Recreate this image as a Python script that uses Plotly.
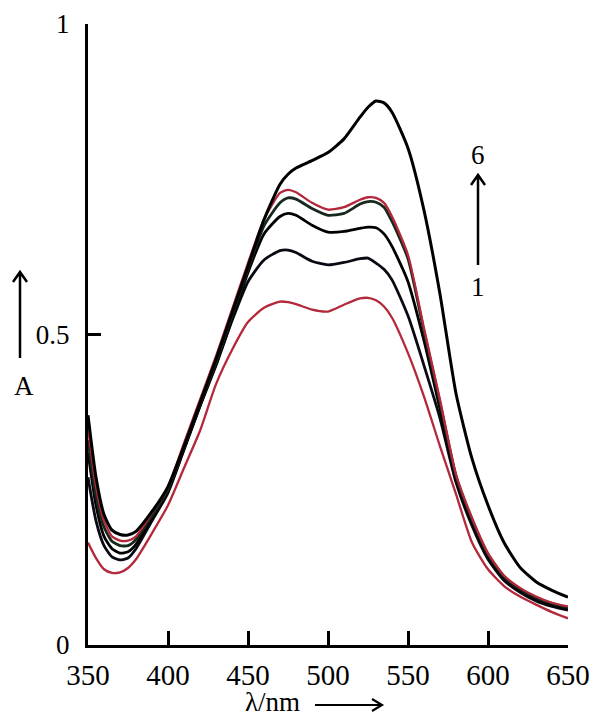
import plotly.graph_objects as go

wavelength = [350, 355, 360, 365, 370, 375, 380, 390, 400, 410, 420, 430, 440, 450, 460, 470, 475, 480,
              490, 500, 510, 520, 525, 530, 535, 540, 550, 560, 570, 580, 590, 600, 610, 620, 630, 640, 650]

curve1 = [0.165, 0.14, 0.122, 0.116, 0.117, 0.124, 0.138, 0.18, 0.225, 0.285, 0.345, 0.42, 0.475, 0.52, 0.543,
          0.553, 0.552, 0.549, 0.54, 0.537, 0.548, 0.558, 0.559, 0.555, 0.545, 0.527, 0.47, 0.40, 0.32, 0.243,
          0.165, 0.122, 0.095, 0.078, 0.065, 0.053, 0.043]
curve2 = [0.27, 0.2, 0.16, 0.142, 0.137, 0.14, 0.155, 0.2, 0.245, 0.315, 0.385, 0.45, 0.522, 0.585, 0.62,
          0.635, 0.636, 0.632, 0.618, 0.612, 0.616, 0.622, 0.623, 0.615, 0.605, 0.588, 0.53, 0.45, 0.365, 0.262,
          0.192, 0.138, 0.104, 0.085, 0.071, 0.062, 0.056]
curve3 = [0.31, 0.225, 0.175, 0.155, 0.148, 0.15, 0.162, 0.205, 0.248, 0.315, 0.385, 0.452, 0.525, 0.6, 0.662,
          0.69, 0.695, 0.692, 0.676, 0.665, 0.666, 0.671, 0.673, 0.672, 0.662, 0.642, 0.585, 0.49, 0.38, 0.268,
          0.198, 0.143, 0.108, 0.088, 0.074, 0.065, 0.058]
curve4 = [0.33, 0.24, 0.19, 0.167, 0.16, 0.16, 0.17, 0.208, 0.25, 0.318, 0.388, 0.455, 0.53, 0.605, 0.675,
          0.712, 0.72, 0.718, 0.703, 0.692, 0.695, 0.71, 0.714, 0.713, 0.705, 0.682, 0.622, 0.505, 0.39, 0.272,
          0.202, 0.146, 0.11, 0.09, 0.076, 0.067, 0.06]
curve5 = [0.35, 0.255, 0.2, 0.175, 0.168, 0.168, 0.175, 0.213, 0.255, 0.325, 0.395, 0.465, 0.54, 0.615, 0.685,
          0.728, 0.733, 0.729, 0.712, 0.701, 0.705, 0.717, 0.721, 0.72, 0.712, 0.69, 0.628, 0.51, 0.395, 0.275,
          0.205, 0.148, 0.112, 0.092, 0.078, 0.068, 0.062]
curve6 = [0.37, 0.27, 0.21, 0.185, 0.178, 0.177, 0.183, 0.215, 0.255, 0.32, 0.39, 0.46, 0.535, 0.61, 0.685,
          0.742, 0.758, 0.768, 0.78, 0.793, 0.815, 0.85, 0.866, 0.876, 0.873, 0.858, 0.8, 0.7, 0.565, 0.405,
          0.3, 0.225, 0.165, 0.125, 0.102, 0.088, 0.077]

series = [("1", curve1, "#b3283a", 2.3), ("2", curve2, "#0a0a14", 2.8), ("3", curve3, "#000000", 2.8),
          ("4", curve4, "#17281c", 2.8), ("5", curve5, "#b3283a", 2.3), ("6", curve6, "#000000", 3.0)]

x_ticks = [350, 400, 450, 500, 550, 600, 650]
y_ticks = [0, 0.5, 1]
y_ticktext = ["0", "0.5", "1"]

FONT = "Liberation Serif"

fig = go.Figure()
for name, vals, color, w in series:
    fig.add_trace(go.Scatter(x=wavelength, y=vals, mode="lines", name=name,
                             line=dict(color=color, width=w, shape="spline", smoothing=0.6),
                             showlegend=False))

# plot area in pixels: x 88..568, y 24..645
def px(xp):
    return (xp - 88) / 480.0

def py(yp):
    return (645 - yp) / 621.0

def arrow_path(x0, y0, x1, y1, hx, hy):
    if x0 == x1:  # vertical arrow pointing up
        return (f"M {px(x0)},{py(y0)} L {px(x1)},{py(y1)} "
                f"M {px(x1 - hx)},{py(y1 + hy)} L {px(x1)},{py(y1)} L {px(x1 + hx)},{py(y1 + hy)}")
    return (f"M {px(x0)},{py(y0)} L {px(x1)},{py(y1)} "
            f"M {px(x1 - hx)},{py(y1 - hy)} L {px(x1)},{py(y1)} L {px(x1 - hx)},{py(y1 + hy)}")

shapes = [
    dict(type="path", xref="paper", yref="paper", path=arrow_path(20, 358, 20, 272, 7, 10),
         line=dict(color="black", width=2.5)),
    dict(type="path", xref="paper", yref="paper", path=arrow_path(478, 265, 478, 175, 7, 10),
         line=dict(color="black", width=2.5)),
    dict(type="path", xref="paper", yref="paper", path=arrow_path(315, 705, 382, 705, 10, 6),
         line=dict(color="black", width=2.2)),
]

def label(text, xp, yp, size=27):
    return dict(text=text, x=px(xp), y=py(yp), xref="paper", yref="paper", showarrow=False,
                xanchor="center", yanchor="middle", font=dict(family=FONT, size=size, color="black"))

annotations = [
    label("6", 478, 155),
    label("1", 478, 287),
    label("A", 24, 386),
    label("λ/nm", 272, 702),
]

fig.update_layout(
    width=593, height=722,
    margin=dict(l=88, r=25, t=24, b=77, autoexpand=False),
    paper_bgcolor="white", plot_bgcolor="white",
    shapes=shapes, annotations=annotations,
    xaxis=dict(range=[350, 650], tickvals=x_ticks, ticks="inside", ticklen=14, tickwidth=2.5,
               tickcolor="black", showline=True, linecolor="black", linewidth=3, showgrid=False,
               zeroline=False, tickfont=dict(family=FONT, size=29, color="black"),
               ticklabelstandoff=2, automargin=False),
    yaxis=dict(range=[0, 1], tickvals=y_ticks, ticktext=y_ticktext, ticks="inside", ticklen=13,
               tickwidth=2.5, tickcolor="black", showline=True, linecolor="black", linewidth=3,
               showgrid=False, zeroline=False, tickfont=dict(family=FONT, size=27, color="black"),
               ticklabelstandoff=10, automargin=False),
)

fig.write_html("out.html")
